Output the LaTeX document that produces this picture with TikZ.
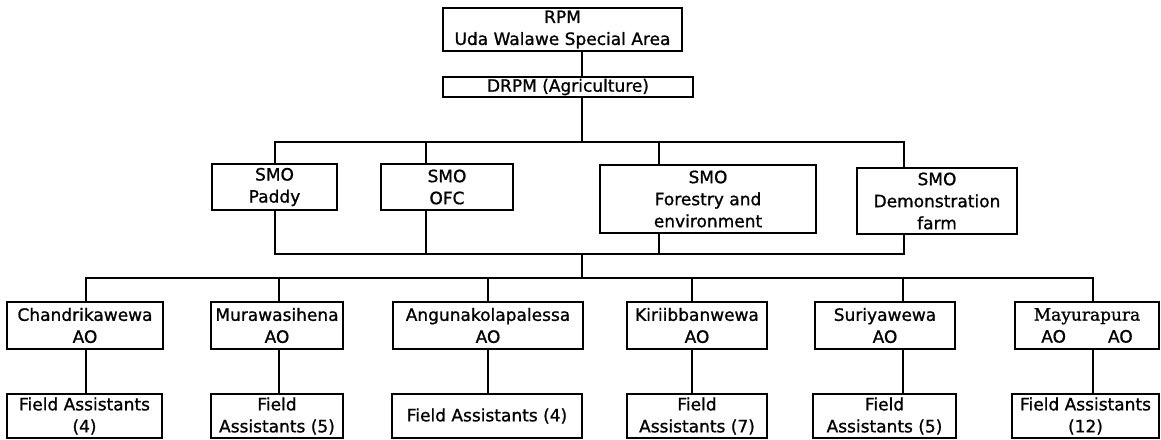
\documentclass[tikz,border=0pt]{standalone}
\usepackage{fontspec}
\setmainfont[RawFeature={embolden=1.0}]{DejaVu Sans}
\newfontfamily\placefont[RawFeature={embolden=1.0}]{DejaVu Serif}
\begin{document}
\begin{tikzpicture}[x=1pt,y=-1pt,
  box/.style={draw, line width=1.5pt, inner sep=0pt, align=center,
              font=\fontsize{17}{22}\selectfont},
  wire/.style={line width=1.5pt}]
\useasboundingbox (0,0) rectangle (1161,439);

% management
\node[box, minimum width=239, minimum height=43] (rpm)  at (562.5,29.5) {RPM\\Uda Walawe Special Area};
\node[box, minimum width=250, minimum height=20] (drpm) at (568,87) {DRPM (Agriculture)};

% subject matter officers
\node[box, minimum width=125, minimum height=46] (paddy)  at (274.5,187) {SMO\\Paddy};
\node[box, minimum width=132, minimum height=46] (ofc)    at (447,187)   {SMO\\OFC};
\node[box, minimum width=216, minimum height=68] (forest) at (708,199)   {SMO\\Forestry and\\environment};
\node[box, minimum width=160, minimum height=66] (demo)   at (937,201)   {SMO\\Demonstration\\farm};

% agricultural officers
\node[box, minimum width=156, minimum height=47] (ao1) at (85,325.5)   {Chandrikawewa\\AO};
\node[box, minimum width=132, minimum height=47] (ao2) at (277,325.5)  {Murawasihena\\AO};
\node[box, minimum width=190, minimum height=47] (ao3) at (488,325.5)  {Angunakolapalessa\\AO};
\node[box, minimum width=140, minimum height=47] (ao4) at (697,325.5)  {Kiriibbanwewa\\AO};
\node[box, minimum width=140, minimum height=47] (ao5) at (885,325.5)  {Suriyawewa\\AO};
\node[box, minimum width=144, minimum height=47] (ao6) at (1087,325.5) {{\placefont Mayurapura}\\AO\hspace{42pt}AO};

% field assistants
\node[box, minimum width=155, minimum height=44] (fa1) at (84.5,416)   {Field Assistants\\(4)};
\node[box, minimum width=132, minimum height=44] (fa2) at (277,416)    {Field\\Assistants (5)};
\node[box, minimum width=190, minimum height=44] (fa3) at (487,416)    {Field Assistants (4)};
\node[box, minimum width=140, minimum height=44] (fa4) at (697,416)    {Field\\Assistants (7)};
\node[box, minimum width=143, minimum height=44] (fa5) at (884.5,416)  {Field\\Assistants (5)};
\node[box, minimum width=147, minimum height=44] (fa6) at (1085.5,416) {Field Assistants\\(12)};

% routing columns and bus rows
\coordinate (spine) at (582,0);
\coordinate (topbus) at (582,142);
\coordinate (lowbus) at (582,254);
\coordinate (aobus)  at (582,278);
\coordinate (s1) at (275,0);
\coordinate (s2) at (426,0);
\coordinate (s3) at (659,0);
\coordinate (s4) at (904,0);
\coordinate (c1) at (86,0);
\coordinate (c2) at (279,0);
\coordinate (c3) at (488,0);
\coordinate (c4) at (692,0);
\coordinate (c5) at (903,0);
\coordinate (c6) at (1093,0);

% main spine
\draw[wire] (rpm.south -| spine) -- (drpm.north -| spine);
\draw[wire] (drpm.south -| spine) -- (topbus);
\draw[wire] (lowbus) -- (aobus);

% SMO buses
\draw[wire] (paddy.north -| s1) -- (s1 |- topbus) -- (s4 |- topbus) -- (demo.north -| s4);
\draw[wire] (ofc.north -| s2) -- (s2 |- topbus);
\draw[wire] (forest.north -| s3) -- (s3 |- topbus);
\draw[wire] (paddy.south -| s1) -- (s1 |- lowbus) -- (s4 |- lowbus) -- (demo.south -| s4);
\draw[wire] (ofc.south -| s2) -- (s2 |- lowbus);
\draw[wire] (forest.south -| s3) -- (s3 |- lowbus);

% AO bus
\draw[wire] (ao1.north -| c1) -- (c1 |- aobus) -- (c6 |- aobus) -- (ao6.north -| c6);
\foreach \i in {2,3,4,5} {
  \draw[wire] (ao\i.north -| c\i) -- (c\i |- aobus);
}

% AO to field assistants
\foreach \i in {1,...,6} {
  \draw[wire] (ao\i.south -| c\i) -- (fa\i.north -| c\i);
}
\end{tikzpicture}
\end{document}
